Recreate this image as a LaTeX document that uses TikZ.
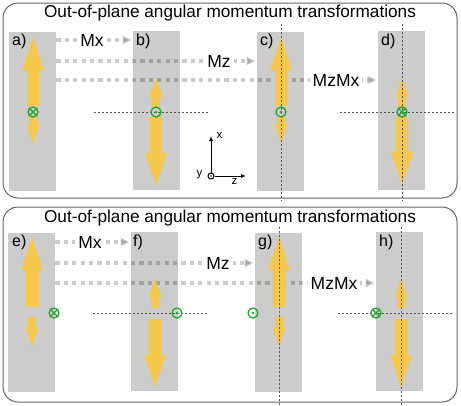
\documentclass[tikz,border=0pt]{standalone}
\usepackage{fontspec}
\setmainfont{Liberation Sans}
\usetikzlibrary{arrows.meta}
\definecolor{boxgray}{HTML}{CCCCCC}
\definecolor{yel}{HTML}{F5C84C}
\definecolor{grn}{HTML}{22A52A}
\definecolor{framec}{HTML}{666666}
\definecolor{dashc}{HTML}{555555}
\newcommand\yarr[6]{\fill[yarrow] (#1,#2) -- ({#1+#5},{#2+#4}) -- ({#1+#6},{#2+#4}) -- ({#1+#6},#3) -- ({#1-#6},#3) -- ({#1-#6},{#2+#4}) -- ({#1-#5},{#2+#4}) -- cycle;}
\begin{document}
\begin{tikzpicture}[x=1pt,y=-1pt,
 frame/.style={draw=framec,line width=1pt,rounded corners=15pt},
 gbox/.style={fill=boxgray,draw=none,anchor=north west,inner sep=0,minimum width=47pt,minimum height=159pt},
 tarrow/.style={draw=black,opacity=0.2,line width=4pt,dash pattern=on 4.2pt off 4.2pt,shorten >=1.5pt,-{Triangle[length=9pt,width=8pt]}},
 tlabel/.style={fill=white,inner sep=3pt,font=\fontsize{17.5}{20}\selectfont},
 ttitle/.style={font=\fontsize{17.2}{20}\selectfont,anchor=base},
 plabel/.style={font=\fontsize{16}{18}\selectfont,anchor=base west,inner sep=0},
 yarrow/.style={fill=yel},
 dline/.style={draw=dashc,line width=0.8pt,dash pattern=on 2pt off 2pt},
 ring/.style={circle,draw=grn,line width=1.3pt,minimum size=10pt,inner sep=0},
 axlabel/.style={font=\fontsize{11.5}{13}\selectfont,inner sep=0},
 axarrow/.style={draw=black,line width=1pt,-{Latex[length=5pt,width=4pt]}},
]
\useasboundingbox (0,0) rectangle (461,405);
% frames
\draw[frame] (3,3) rectangle (457,198);
\draw[frame] (3,207) rectangle (457,402);
\node[ttitle] (t1) at (230,17.5) {Out-of-plane angular momentum transformations};
\node[ttitle] (t2) at (230,222) {Out-of-plane angular momentum transformations};
% boxes
\node[gbox] (A) at (9,32) {};
\node[gbox] (B) at (133,31) {};
\node[gbox] (C) at (257,32) {};
\node[gbox] (D) at (378,31) {};
\node[gbox] (E) at (8,233) {};
\node[gbox] (F) at (131,232) {};
\node[gbox] (G) at (255,233) {};
\node[gbox] (H) at (376,232) {};
% transformation arrows
\coordinate (mx1) at (92,40);
\coordinate (mz1) at (219,61);
\coordinate (mzmx1) at (336,80);
\coordinate (mx2) at (90,242);
\coordinate (mz2) at (218,263);
\coordinate (mzmx2) at (334,283);
\draw[tarrow] (A.east |- mx1) -- (B.west |- mx1);
\draw[tarrow] (A.east |- mz1) -- (C.west |- mz1);
\draw[tarrow] (A.east |- mzmx1) -- (D.west |- mzmx1);
\draw[tarrow] (E.east |- mx2) -- (F.west |- mx2);
\draw[tarrow] (E.east |- mz2) -- (G.west |- mz2);
\draw[tarrow] (E.east |- mzmx2) -- (H.west |- mzmx2);
\node[tlabel] (lmx1) at (mx1) {Mx};
\node[tlabel] (lmz1) at (mz1) {Mz};
\node[tlabel] (lmzmx1) at (mzmx1) {MzMx};
\node[tlabel] (lmx2) at (mx2) {Mx};
\node[tlabel] (lmz2) at (mz2) {Mz};
\node[tlabel] (lmzmx2) at (mzmx2) {MzMx};
% yellow arrows top
\yarr{33}{37}{106}{33}{10.8}{6}
\yarr{33}{144}{117}{-19}{6.6}{4}
\yarr{156}{78}{107}{19}{6.6}{4}
\yarr{156}{186}{117}{-33}{11}{6}
\yarr{281}{37}{106}{33}{10.8}{6}
\yarr{281}{143}{117}{-19}{6.6}{4}
\yarr{402}{78}{107}{19}{6.6}{4}
\yarr{402}{185}{117}{-33}{11}{6}
% yellow arrows bottom
\yarr{32}{237}{307}{33}{10.8}{6.5}
\yarr{32}{346}{317}{-18}{6.4}{4}
\yarr{155}{279}{308}{18}{6.2}{4}
\yarr{155}{387}{319}{-32}{10.8}{6.5}
\yarr{279}{237}{307}{33}{10.8}{6.5}
\yarr{279}{346}{317}{-18}{6.4}{4}
\yarr{401}{279}{308}{18}{6.2}{4}
\yarr{401}{387}{319}{-32}{10.8}{6.5}
% dashed lines
\draw[dline] (94,112) -- (209,112);
\draw[dline] (281,24) -- (281,201);
\draw[dline] (402,24) -- (402,201);
\draw[dline] (340,112) -- (455,112);
\draw[dline] (93,313) -- (207,313);
\draw[dline] (279,227) -- (279,405);
\draw[dline] (401,227) -- (401,405);
\draw[dline] (338,313) -- (453,313);
% rings
\node[ring] (ra) at (33,112) {};
\draw[grn,line width=1.1pt] (ra.north east) -- (ra.south west) (ra.north west) -- (ra.south east);
\node[ring] (rb) at (156,112) {};
\fill[grn] (rb) circle (1.3pt);
\node[ring] (rc) at (281,112) {};
\fill[grn] (rc) circle (1.3pt);
\node[ring] (rd) at (402,112) {};
\draw[grn,line width=1.1pt] (rd.north east) -- (rd.south west) (rd.north west) -- (rd.south east);
\node[ring] (re) at (54,313) {};
\draw[grn,line width=1.1pt] (re.north east) -- (re.south west) (re.north west) -- (re.south east);
\node[ring] (rf) at (177,313) {};
\fill[grn] (rf) circle (1.3pt);
\node[ring] (rg) at (253,313) {};
\fill[grn] (rg) circle (1.3pt);
\node[ring] (rh) at (376,313) {};
\draw[grn,line width=1.1pt] (rh.north east) -- (rh.south west) (rh.north west) -- (rh.south east);
% panel labels
\node[plabel] (pa) at (12,45) {a)};
\node[plabel] (pb) at (136,45) {b)};
\node[plabel] (pc) at (260,45) {c)};
\node[plabel] (pd) at (381,45) {d)};
\node[plabel] (pe) at (12,246) {e)};
\node[plabel] (pf) at (133,246) {f)};
\node[plabel] (pg) at (258,246) {g)};
\node[plabel] (ph) at (379,246) {h)};
% axes
\node[circle,draw=black,line width=1pt,minimum size=6pt,inner sep=0] (O) at (211,176) {};
\fill (O) circle (0.9pt);
\coordinate (xe) at (211,136);
\coordinate (ze) at (246,176);
\draw[axarrow] (O.north) -- (xe);
\draw[axarrow] (O.east) -- (ze);
\node[axlabel] (lx) at (219.5,135.5) {x};
\node[axlabel] (lz) at (234.5,181.5) {z};
\node[axlabel] (ly) at (199.5,175) {y};
\end{tikzpicture}
\end{document}
